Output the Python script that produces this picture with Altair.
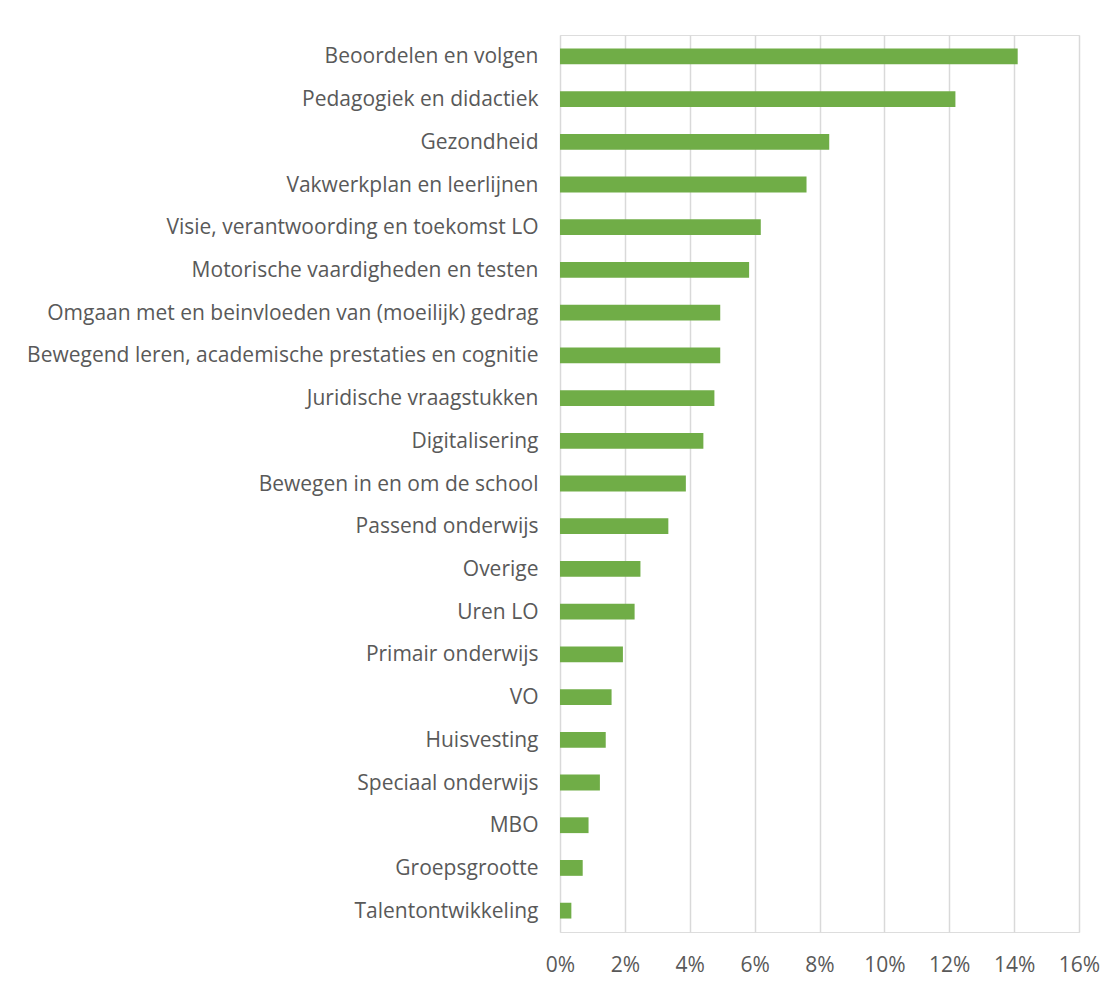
import altair as alt
import pandas as pd

categories = [
    "Beoordelen en volgen",
    "Pedagogiek en didactiek",
    "Gezondheid",
    "Vakwerkplan en leerlijnen",
    "Visie, verantwoording en toekomst LO",
    "Motorische vaardigheden en testen",
    "Omgaan met en beinvloeden van (moeilijk) gedrag",
    "Bewegend leren, academische prestaties en cognitie",
    "Juridische vraagstukken",
    "Digitalisering",
    "Bewegen in en om de school",
    "Passend onderwijs",
    "Overige",
    "Uren LO",
    "Primair onderwijs",
    "VO",
    "Huisvesting",
    "Speciaal onderwijs",
    "MBO",
    "Groepsgrootte ",
    "Talentontwikkeling",
]
values = [
    0.1411, 0.1219, 0.0830, 0.0760, 0.0619, 0.0583, 0.0494, 0.0494,
    0.0476, 0.0442, 0.0388, 0.0334, 0.0248, 0.0230, 0.0194, 0.0159,
    0.0141, 0.0123, 0.0088, 0.0070, 0.0035,
]
tick_values = [0, 0.02, 0.04, 0.06, 0.08, 0.10, 0.12, 0.14, 0.16]

df = pd.DataFrame({"category": categories, "value": values})

FONT = "Open Sans"
TXT = "#595959"

chart = (
    alt.Chart(df)
    .mark_bar(color="#70AD47")
    .encode(
        x=alt.X(
            "value:Q",
            scale=alt.Scale(domain=[0, 0.16], nice=False),
            axis=alt.Axis(
                values=tick_values,
                format=".0%",
                title=None,
                domain=False,
                ticks=False,
                grid=True,
                gridColor="#d9d9d9",
                gridWidth=1.5,
                labelFont=FONT,
                labelFontSize=21,
                labelColor=TXT,
                labelPadding=22,
                labelFlush=False,
            ),
        ),
        y=alt.Y(
            "category:N",
            sort=categories,
            scale=alt.Scale(paddingInner=0.63, paddingOuter=0.315),
            axis=alt.Axis(
                title=None,
                domain=False,
                ticks=False,
                grid=False,
                labelFont=FONT,
                labelFontSize=21,
                labelColor=TXT,
                labelPadding=22,
                labelLimit=600,
                labelBaseline="middle",
                labelOffset=1,
            ),
        ),
    )
    .properties(
        width=519,
        height=897,
        autosize=alt.AutoSizeParams(type="none"),
        padding={"left": 552, "top": 27, "right": 30, "bottom": 45},
    )
    .configure_view(stroke=None)
    .configure(background="white")
)

chart.save("out.html", embed_options={"renderer": "svg", "actions": False})
